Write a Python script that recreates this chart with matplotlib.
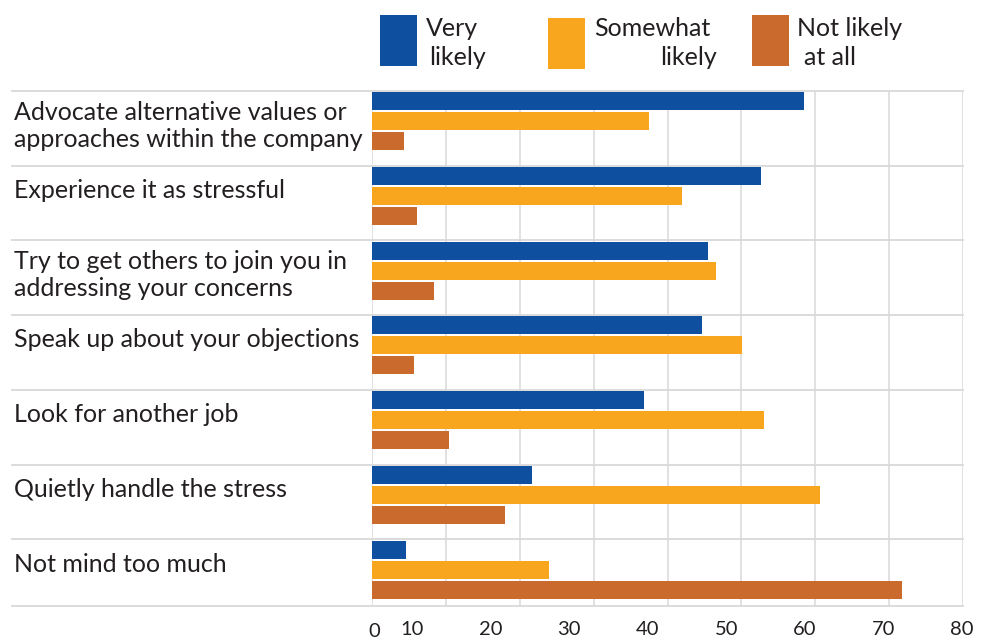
import matplotlib
matplotlib.use("Agg")
import matplotlib.pyplot as plt
from matplotlib.lines import Line2D
from matplotlib.patches import Rectangle
from matplotlib.transforms import blended_transform_factory

# ---- data -------------------------------------------------------------
categories = [
    "Advocate alternative values or\napproaches within the company",
    "Experience it as stressful",
    "Try to get others to join you in\naddressing your concerns",
    "Speak up about your objections",
    "Look for another job",
    "Quietly handle the stress",
    "Not mind too much",
]
very_likely = [58.5, 52.6, 45.5, 44.7, 36.8, 21.7, 4.6]
somewhat_likely = [37.5, 41.9, 46.5, 50.1, 53.0, 60.6, 23.9]
not_likely = [4.3, 6.1, 8.4, 5.7, 10.4, 18.0, 71.7]
series_labels = [["Very", "likely"], ["Somewhat", "likely"], ["Not likely", "at all"]]
x_ticks = [0, 10, 20, 30, 40, 50, 60, 70, 80]

# ---- style ------------------------------------------------------------
BLUE, ORANGE, RUST = "#0e4fa0", "#f7a61d", "#cb6a2d"
GRID = "#d9d9d9"
TEXT = "#231f20"
FONT = ["Lato", "DejaVu Sans"]
plt.rcParams["font.family"] = FONT

W, H = 992, 640
BAND = 74.7          # pixel height of one category band
AX_L, AX_R, AX_T, AX_B = 372, 963, 91, 605.7

fig = plt.figure(figsize=(W / 100, H / 100), dpi=100)
ax = fig.add_axes([AX_L / W, 1 - AX_B / H, (AX_R - AX_L) / W, (AX_B - AX_T) / H])
ax.set_xlim(0, 80)
ax.set_ylim((AX_B - AX_T) / BAND, 0)
for s in ax.spines.values():
    s.set_visible(False)
ax.set_xticks([])
ax.set_yticks([])


def ax_x(px):
    """Pixel x position -> axes fraction."""
    return (px - AX_L) / (AX_R - AX_L)


# vertical grid lines, including the x=0 axis and the right border
for v in x_ticks:
    ax.axvline(v, color=GRID, lw=1.1, zorder=1)

# horizontal separators running under the category labels
hx = blended_transform_factory(ax.transAxes, ax.transData)
n = len(categories)
for y in list(range(n)) + [(AX_B - AX_T) / BAND]:
    ax.add_line(Line2D([ax_x(12), 1], [y, y], color=GRID, lw=1.3,
                       transform=hx, clip_on=False, zorder=1))

# bars
bar_h = 18 / BAND
offsets = [10.3 / BAND, 30.3 / BAND, 50.3 / BAND]
for vals, col, off in zip([very_likely, somewhat_likely, not_likely],
                          [BLUE, ORANGE, RUST], offsets):
    ax.barh([i + off for i in range(n)], vals, height=bar_h, left=0,
            color=col, zorder=2, linewidth=0)

# category labels, one text per line
for i, lab in enumerate(categories):
    lines = lab.split("\n")
    first = 29 if len(lines) > 1 else 32.3
    for k, line in enumerate(lines):
        ax.text(ax_x(14), i + (first + k * 27) / BAND, line, transform=hx,
                ha="left", va="baseline", fontsize=18, color=TEXT, clip_on=False)

# x tick labels
tx = blended_transform_factory(ax.transData, fig.transFigure)
for v in x_ticks:
    if v == 0:
        xpos, base = 0.31, 637.3
    else:
        xpos, base = 79.82 - (80 - v) * 1.0626, 635
    ax.text(xpos, 1 - base / H, str(v), transform=tx, ha="center",
            va="baseline", fontsize=14.5, color=TEXT, clip_on=False)

# legend
legend_boxes = [(380.4, 14.5, 416.7, 65.7), (548, 18, 584.5, 69), (751.7, 14.5, 788.7, 65.7)]
for (x0, y0, x1, y1), col in zip(legend_boxes, [BLUE, ORANGE, RUST]):
    fig.add_artist(Rectangle((x0 / W, 1 - y1 / H), (x1 - x0) / W, (y1 - y0) / H,
                             transform=fig.transFigure, color=col, lw=0))
legend_text = [
    [(426, 36.3, "left"), (429, 65, "left")],
    [(594, 36.3, "left"), (716.7, 65, "right")],
    [(797, 36.3, "left"), (804, 65, "left")],
]
for words, places in zip(series_labels, legend_text):
    for word, (x, y, ha) in zip(words, places):
        fig.text(x / W, 1 - y / H, word, ha=ha, va="baseline",
                 fontsize=18, color=TEXT)

fig.savefig("out.png", dpi=100)
